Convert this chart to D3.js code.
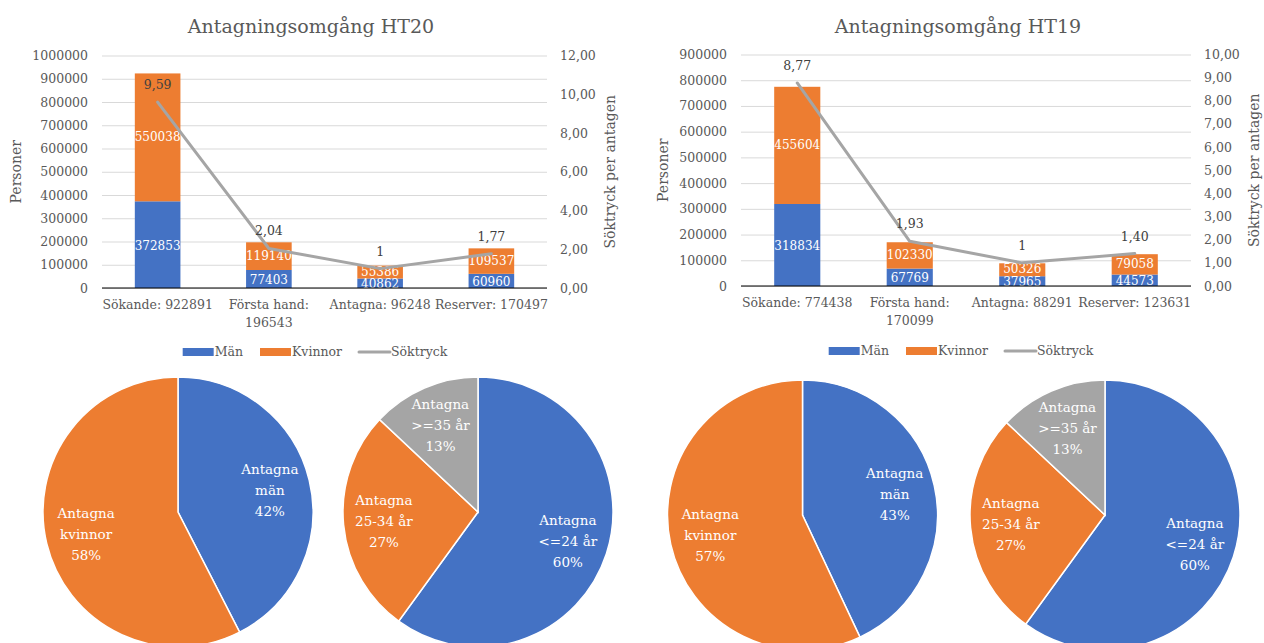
<!DOCTYPE html>
<html>
<head>
<meta charset="utf-8">
<script src="https://cdn.jsdelivr.net/npm/d3@7"></script>
<style>
  body { margin: 0; background: #fff; }
  svg { display: block; font-family: "DejaVu Serif", Georgia, serif; }
</style>
</head>
<body>
<svg id="chart" width="1264" height="643"></svg>
<script>
// DATA
const stages = [`Sökande`, `Första hand`, `Antagna`, `Reserver`];

const men20 = [372853, 77403, 40862, 60960];
const women20 = [550038, 119140, 55386, 109537];
const pressure20 = [9.59, 2.04, 1, 1.77];

const men19 = [318834, 67769, 37965, 44573];
const women19 = [455604, 102330, 50326, 79058];
const pressure19 = [8.77, 1.93, 1, 1.40];

const ageGroups = [`<=24 år`, `25-34 år`, `>=35 år`];
const age20 = [60, 27, 13];
const age19 = [60, 27, 13];

// COLOURS
const BLUE = `#4472C4`;
const ORANGE = `#ED7D31`;
const GREY = `#A5A5A5`;
const TEXT = `#595959`;
const FONT = `"DejaVu Serif", Georgia, serif`;

const svg = d3.select(`#chart`);
const locale = d3.formatLocale({ decimal: `,`, thousands: ` `, grouping: [3], currency: [``, ``] });
const fmtRight = locale.format(`.2f`);
const fmtPressure = v => v === 1 ? `1` : fmtRight(v);
const fmtPct = d3.format(`.0%`);

// BAR + LINE CHART
const drawCombo = (cfg) => {
  const { men, women, pressure, title, x0, x1, y0, y1, yMax, yStep, rMax, rStep } = cfg;
  const totals = men.map((m, i) => m + women[i]);
  const labels = stages.map((s, i) => `${s}: ${totals[i]}`);
  const rows = stages.map((s, i) => ({ stage: s, men: men[i], women: women[i], p: pressure[i] }));

  const x = d3.scaleBand().domain(stages).range([x0, x1]).paddingInner(0.59).paddingOuter(0.295);
  const y = d3.scaleLinear().domain([0, yMax]).range([y1, y0]);
  const yr = d3.scaleLinear().domain([0, rMax]).range([y1, y0]);
  const cx = s => x(s) + x.bandwidth() / 2;

  const g = svg.append(`g`);

  g.append(`text`)
    .attr(`x`, cfg.titleX)
    .attr(`y`, 33)
    .attr(`text-anchor`, `middle`)
    .attr(`fill`, TEXT)
    .attr(`font-size`, 19)
    .text(title);

  // grid
  g.append(`g`)
    .attr(`transform`, `translate(${x0},0)`)
    .call(d3.axisLeft(y).tickValues(d3.range(0, yMax + 1, yStep)).tickSize(-(x1 - x0)).tickFormat(``))
    .call(a => a.select(`.domain`).remove())
    .call(a => a.selectAll(`.tick line`).attr(`stroke`, `#D9D9D9`));

  // left axis labels
  g.append(`g`)
    .attr(`transform`, `translate(${x0 - 5},0)`)
    .call(d3.axisLeft(y).tickValues(d3.range(0, yMax + 1, yStep)).tickSize(0).tickPadding(9).tickFormat(d3.format(`d`)))
    .attr(`font-family`, FONT)
    .call(a => a.select(`.domain`).remove())
    .call(a => a.selectAll(`text`).attr(`fill`, TEXT).attr(`font-size`, 12.5));

  // right axis labels
  g.append(`g`)
    .attr(`transform`, `translate(${x1 + 4},0)`)
    .call(d3.axisRight(yr).tickValues(d3.range(0, rMax + 0.001, rStep)).tickSize(0).tickPadding(9).tickFormat(fmtRight))
    .attr(`font-family`, FONT)
    .call(a => a.select(`.domain`).remove())
    .call(a => a.selectAll(`text`).attr(`fill`, TEXT).attr(`font-size`, 12.5));

  g.append(`text`)
    .attr(`transform`, `translate(${cfg.leftTitleX},${(y0 + y1) / 2}) rotate(-90)`)
    .attr(`text-anchor`, `middle`)
    .attr(`dy`, `0.35em`)
    .attr(`fill`, TEXT)
    .attr(`font-size`, 14)
    .text(`Personer`);

  g.append(`text`)
    .attr(`transform`, `translate(${x1 + 63},${(y0 + y1) / 2}) rotate(-90)`)
    .attr(`text-anchor`, `middle`)
    .attr(`dy`, `0.35em`)
    .attr(`fill`, TEXT)
    .attr(`font-size`, 14)
    .text(`Söktryck per antagen`);

  const clipId = `clip-${title.slice(-4)}`;
  g.append(`clipPath`).attr(`id`, clipId)
    .append(`rect`).attr(`x`, x0).attr(`y`, y0 - 20).attr(`width`, x1 - x0).attr(`height`, y1 - y0 + 20);

  // bars
  const bars = g.selectAll(`.bar`).data(rows).enter().append(`g`);
  bars.append(`rect`)
    .attr(`x`, d => x(d.stage))
    .attr(`width`, x.bandwidth())
    .attr(`y`, d => y(d.men))
    .attr(`height`, d => y(0) - y(d.men))
    .attr(`fill`, BLUE);
  bars.append(`rect`)
    .attr(`x`, d => x(d.stage))
    .attr(`width`, x.bandwidth())
    .attr(`y`, d => y(d.men + d.women))
    .attr(`height`, d => y(d.men) - y(d.men + d.women))
    .attr(`fill`, ORANGE);

  const lbl = g.append(`g`).attr(`clip-path`, `url(#${clipId})`);
  lbl.selectAll(`.lm`).data(rows).enter().append(`text`)
    .attr(`x`, d => cx(d.stage))
    .attr(`y`, d => y(d.men / 2))
    .attr(`dy`, `0.42em`)
    .attr(`text-anchor`, `middle`)
    .attr(`fill`, `#fff`)
    .attr(`font-size`, 12)
    .text(d => d.men);
  lbl.selectAll(`.lw`).data(rows).enter().append(`text`)
    .attr(`x`, d => cx(d.stage))
    .attr(`y`, d => y(d.men + d.women / 2))
    .attr(`dy`, `0.3em`)
    .attr(`text-anchor`, `middle`)
    .attr(`fill`, `#fff`)
    .attr(`font-size`, 12)
    .text(d => d.women);

  // axis line
  g.append(`line`)
    .attr(`x1`, x0).attr(`x2`, x1)
    .attr(`y1`, y(0)).attr(`y2`, y(0))
    .attr(`stroke`, `#000`).attr(`stroke-width`, 1.2);

  // line
  g.append(`path`)
    .datum(rows)
    .attr(`fill`, `none`)
    .attr(`stroke`, GREY)
    .attr(`stroke-width`, 3)
    .attr(`stroke-linejoin`, `round`)
    .attr(`stroke-linecap`, `round`)
    .attr(`d`, d3.line().x(d => cx(d.stage)).y(d => yr(d.p)));

  g.selectAll(`.lp`).data(rows).enter().append(`text`)
    .attr(`x`, d => cx(d.stage))
    .attr(`y`, d => yr(d.p) - 13)
    .attr(`text-anchor`, `middle`)
    .attr(`fill`, `#404040`)
    .attr(`font-size`, 12.5)
    .text(d => fmtPressure(d.p));

  // category labels with wrapping
  const cat = g.selectAll(`.cat`).data(stages).enter().append(`text`)
    .attr(`x`, d => cx(d))
    .attr(`y`, y1 + 21)
    .attr(`text-anchor`, `middle`)
    .attr(`fill`, TEXT)
    .attr(`font-size`, 12.5);
  cat.each(function (d, i) {
    const t = d3.select(this);
    t.text(labels[i]);
    if (this.getComputedTextLength() > x.step() + 6) {
      const words = labels[i].split(` `);
      const last = words.pop();
      t.text(null);
      t.append(`tspan`).attr(`x`, cx(d)).text(words.join(` `));
      t.append(`tspan`).attr(`x`, cx(d)).attr(`dy`, 18).text(last);
    }
  });

  // legend
  const leg = g.append(`g`);
  const items = [
    { name: `Män`, type: `rect`, color: BLUE },
    { name: `Kvinnor`, type: `rect`, color: ORANGE },
    { name: `Söktryck`, type: `line`, color: GREY }
  ];
  let lx = 0;
  const ly = cfg.legendY;
  items.forEach(it => {
    if (it.type === `rect`) {
      leg.append(`rect`).attr(`x`, lx).attr(`y`, ly - 4).attr(`width`, 31).attr(`height`, 8).attr(`fill`, it.color);
    } else {
      leg.append(`line`).attr(`x1`, lx).attr(`x2`, lx + 31).attr(`y1`, ly).attr(`y2`, ly)
        .attr(`stroke`, it.color).attr(`stroke-width`, 3).attr(`stroke-linecap`, `round`);
    }
    const t = leg.append(`text`).attr(`x`, lx + 32).attr(`y`, ly).attr(`dy`, `0.35em`)
      .attr(`fill`, TEXT).attr(`font-size`, 12.5).text(it.name);
    lx += 32 + t.node().getComputedTextLength() + 17;
  });
  const legW = lx - 17;
  leg.attr(`transform`, `translate(${cfg.legendCX - legW / 2},0)`);
};

// PIE
const drawPie = (cfg) => {
  const { values, names, cx, cy, r, colors } = cfg;
  const total = d3.sum(values);
  const arcs = d3.pie().sort(null).value(d => d)(values);
  const arc = d3.arc().innerRadius(0).outerRadius(r);
  const g = svg.append(`g`).attr(`transform`, `translate(${cx},${cy})`);
  g.selectAll(`path`).data(arcs).enter().append(`path`)
    .attr(`d`, arc)
    .attr(`fill`, (d, i) => colors[i])
    .attr(`stroke`, `#fff`)
    .attr(`stroke-width`, 1.5);
  const lab = d3.arc().innerRadius(r * 0.7).outerRadius(r * 0.7);
  arcs.forEach((a, i) => {
    const [ux, uy] = lab.centroid(a);
    const lines = [`Antagna`, names[i], fmtPct(values[i] / total)];
    const t = g.append(`text`)
      .attr(`text-anchor`, `middle`)
      .attr(`fill`, `#fff`)
      .attr(`font-size`, 13.5);
    lines.forEach((l, k) => {
      t.append(`tspan`)
        .attr(`x`, ux)
        .attr(`y`, uy + (k - 1) * 21)
        .attr(`dy`, `0.35em`)
        .text(l);
    });
  });
};

drawCombo({
  men: men20, women: women20, pressure: pressure20, title: `Antagningsomgång HT20`,
  x0: 102, x1: 547, y0: 55.5, y1: 288, yMax: 1000000, yStep: 100000, rMax: 12, rStep: 2,
  titleX: 311, leftTitleX: 16, legendY: 352, legendCX: 315
});
drawCombo({
  men: men19, women: women19, pressure: pressure19, title: `Antagningsomgång HT19`,
  x0: 741, x1: 1191, y0: 54.5, y1: 286, yMax: 900000, yStep: 100000, rMax: 10, rStep: 1,
  titleX: 958, leftTitleX: 663, legendY: 351, legendCX: 961
});

drawPie({ values: [men20[2], women20[2]], names: [`män`, `kvinnor`], cx: 178, cy: 512, r: 135, colors: [BLUE, ORANGE] });
drawPie({ values: age20, names: ageGroups, cx: 478, cy: 512, r: 135, colors: [BLUE, ORANGE, GREY] });
drawPie({ values: [men19[2], women19[2]], names: [`män`, `kvinnor`], cx: 802.5, cy: 515, r: 135, colors: [BLUE, ORANGE] });
drawPie({ values: age19, names: ageGroups, cx: 1105, cy: 515, r: 135, colors: [BLUE, ORANGE, GREY] });
</script>
</body>
</html>
